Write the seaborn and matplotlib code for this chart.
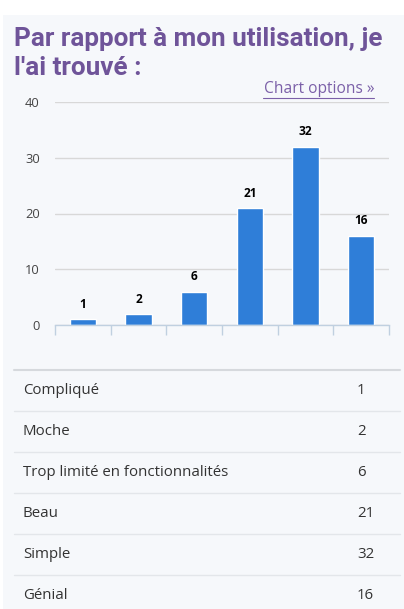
import matplotlib
matplotlib.use("Agg")
import matplotlib.pyplot as plt
from matplotlib.lines import Line2D
from matplotlib.patches import Rectangle
import seaborn as sns
import pandas as pd

# données
categories = ["Compliqué", "Moche", "Trop limité en fonctionnalités", "Beau", "Simple", "Génial"]
values = [1, 2, 6, 21, 32, 16]
y_ticks = [0, 10, 20, 30, 40]
title = "Par rapport à mon utilisation, je\nl'ai trouvé :"

W, H = 404, 609
BG = "#f6f8fb"
BAR = "#2f7ed8"
PURPLE = "#6f5499"

sns.set_theme(style="white")
plt.rcParams['font.family'] = ['Open Sans', 'DejaVu Sans']


def fx(px):
    return px / W


def fy(py):
    return 1 - py / H


fig = plt.figure(figsize=(W / 100, H / 100), dpi=100)
fig.patch.set_facecolor("white")
fig.patches.append(Rectangle((fx(3), 0), 1 - fx(3), fy(15), transform=fig.transFigure,
                             facecolor=BG, edgecolor="none", zorder=-5))

# titre
fig.text(fx(14), fy(75), title, fontsize=18.8, fontweight='bold', color=PURPLE,
         family=['Roboto', 'DejaVu Sans'], va='baseline', ha='left', linespacing=1.25)

# lien
fig.text(fx(374), fy(89), "Chart options »", fontsize=11.2, color="#7b60a8",
         ha='right', va='center')
fig.add_artist(Line2D([fx(263), fx(374)], [fy(98), fy(98)], color="#7b60a8", lw=0.8,
                      transform=fig.transFigure))

# graphique
ax = fig.add_axes([fx(55), fy(325), fx(389) - fx(55), fy(102) - fy(325)], zorder=2)
ax.set_facecolor(BG)
ax.patch.set_alpha(0)
df = pd.DataFrame({"cat": categories, "val": values})
sns.barplot(data=df, x="cat", y="val", color=BAR, width=0.47, saturation=1, ax=ax)
ax.set_ylim(0, 40)
ax.set_xlim(-0.5, len(categories) - 0.5)
ax.set_yticks(y_ticks)
ax.set_yticklabels([str(v) for v in y_ticks], fontsize=9.3, color="#444444")
ax.tick_params(axis='y', length=0, pad=11)
ax.set_xticks([i - 0.5 for i in range(len(categories) + 1)])
ax.set_xticklabels([])
ax.tick_params(axis='x', length=7.2, width=1, color="#c0d0e0", direction='out', bottom=True)
ax.yaxis.grid(True, color="#d8d8d8", lw=1)
ax.set_axisbelow(True)
for s in ["top", "right", "left"]:
    ax.spines[s].set_visible(False)
ax.spines["bottom"].set_color("#c0d0e0")
ax.spines["bottom"].set_linewidth(1)
ax.set_xlabel("")
ax.set_ylabel("")
for i, v in enumerate(values):
    ax.annotate(str(v), (i, v), xytext=(0, 6), textcoords='offset points', ha='center',
                va='bottom', fontsize=8.6, fontweight='bold', color="#000000")

# tableau
row_top = 370
row_h = 41
fig.add_artist(Line2D([fx(14), fx(400)], [fy(row_top), fy(row_top)], color="#d6d9dd", lw=1.5,
                      transform=fig.transFigure))
for i, (c, v) in enumerate(zip(categories, values)):
    y0 = row_top + i * row_h
    fig.text(fx(23), fy(y0 + row_h / 2), c, fontsize=10.8, color="#333333", va='center', ha='left')
    fig.text(fx(357), fy(y0 + row_h / 2), str(v), fontsize=10.8, color="#333333", va='center', ha='left')
    if i > 0:
        fig.add_artist(Line2D([fx(14), fx(400)], [fy(y0), fy(y0)], color="#e3e6ea", lw=1,
                              transform=fig.transFigure))

fig.savefig("out.png", dpi=100, facecolor=fig.get_facecolor())
